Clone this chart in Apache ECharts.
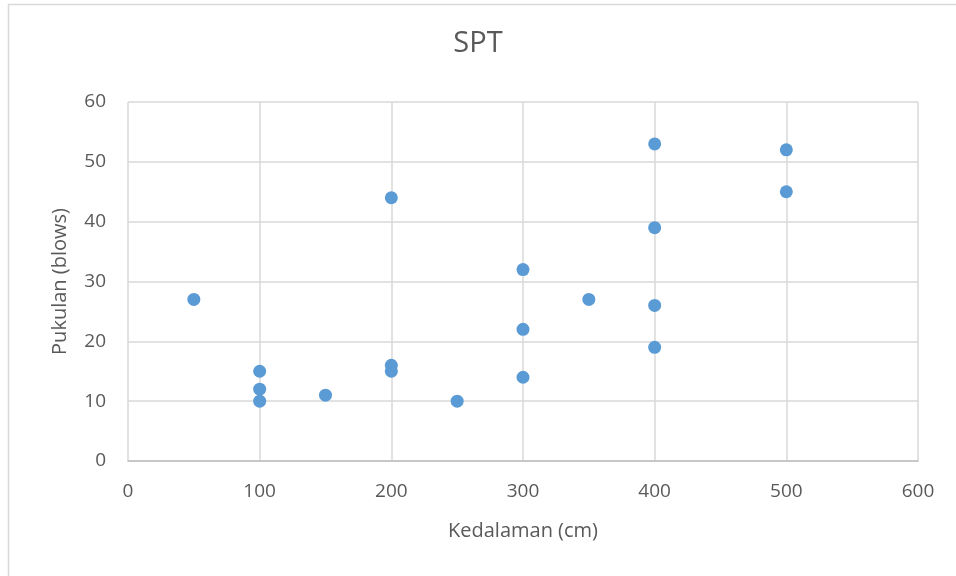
<!DOCTYPE html>
<html><head><meta charset="utf-8">
<script src="https://cdn.jsdelivr.net/npm/echarts@6/dist/echarts.min.js"></script>
<style>html,body{margin:0;padding:0;background:#fff}#c{width:956px;height:576px}</style>
</head><body><div id="c"></div>
<script>
const title = 'SPT';
const xName = 'Kedalaman (cm)';
const yName = 'Pukulan (blows)';
const depth = [50, 100, 100, 100, 150, 200, 200, 200, 250, 300, 300, 300, 350, 400, 400, 400, 400, 500, 500];
const blows = [27, 15, 12, 10, 11, 44, 16, 15, 10, 32, 22, 14, 27, 53, 39, 26, 19, 52, 45];
const xTicks = [0, 600, 100];
const yTicks = [0, 60, 10];

const font = '"Open Sans", sans-serif';
const chart = echarts.init(document.getElementById('c'));
chart.setOption({
  animation: false,
  backgroundColor: '#fff',
  title: {text: title, left: 'center', top: 24, textStyle: {fontFamily: font, fontSize: 29, fontWeight: 'normal', color: '#595959'}},
  graphic: [{type: 'rect', shape: {x: 8.5, y: 4.5, width: 2000, height: 2000}, style: {fill: 'none', stroke: '#d9d9d9', lineWidth: 1.5}, z: -1}],
  grid: {left: 128, right: 38, top: 102, bottom: 115},
  xAxis: {
    type: 'value', min: xTicks[0], max: xTicks[1], interval: xTicks[2],
    name: xName, nameLocation: 'middle', nameGap: 60,
    nameTextStyle: {fontFamily: font, fontSize: 20, color: '#595959'},
    axisLine: {show: true, lineStyle: {color: '#bfbfbf', width: 1.5}},
    axisTick: {show: false},
    axisLabel: {fontFamily: font, fontSize: 19, color: '#595959', margin: 21},
    splitLine: {show: true, lineStyle: {color: '#d9d9d9', width: 1.5}}
  },
  yAxis: {
    type: 'value', min: yTicks[0], max: yTicks[1], interval: yTicks[2],
    name: yName, nameLocation: 'middle', nameGap: 58, nameRotate: 90,
    nameTextStyle: {fontFamily: font, fontSize: 20, color: '#595959'},
    axisLine: {show: false},
    axisTick: {show: false},
    axisLabel: {fontFamily: font, fontSize: 19, color: '#595959', margin: 22},
    splitLine: {show: true, lineStyle: {color: '#d9d9d9', width: 1.5}}
  },
  series: [{
    type: 'scatter',
    data: depth.map((d, i) => [d, blows[i]]),
    symbol: 'circle', symbolSize: 13,
    itemStyle: {color: '#5b9bd5', opacity: 1}
  }]
});
</script></body></html>
